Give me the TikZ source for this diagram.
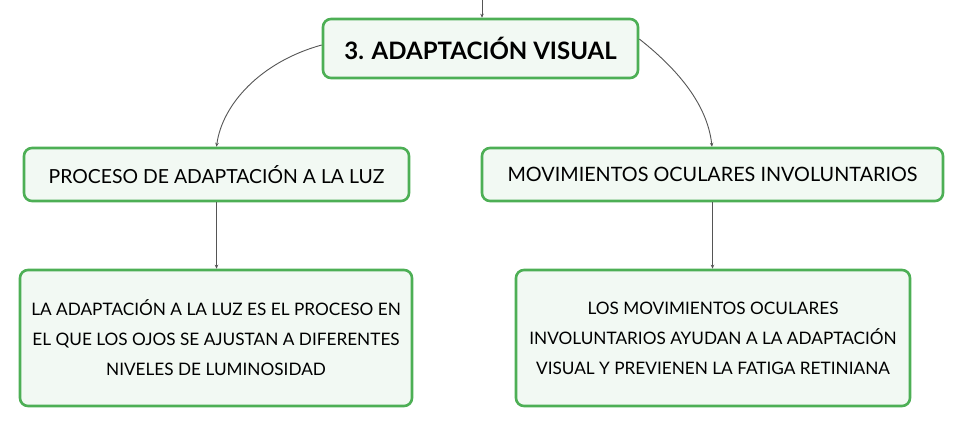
\documentclass[tikz,border=0pt]{standalone}
\usepackage{fontspec}
\setmainfont{Lato}
\usetikzlibrary{arrows.meta}
\definecolor{boxgreen}{HTML}{4DAF55}
\definecolor{boxfill}{HTML}{F2F9F3}
\definecolor{linegray}{HTML}{555555}
\tikzset{
  box/.style={draw=boxgreen, line width=2.6pt, fill=boxfill, rounded corners=8pt, align=center, inner sep=0pt},
  conn/.style={draw=linegray, line width=0.9pt, -{Stealth[length=4pt,width=3.5pt]}}
}
\begin{document}
\begin{tikzpicture}[x=1pt,y=-1pt]
\useasboundingbox (0,0) rectangle (964,426);
\node[box, minimum width=315pt, minimum height=59pt, font=\fontsize{24}{28}\selectfont\bfseries] (root) at (480.5,48.5) {3. ADAPTACIÓN VISUAL};
\node[box, minimum width=385pt, minimum height=53pt, font=\fontsize{19.4}{23}\selectfont] (pl) at (216.5,174.5) {PROCESO DE ADAPTACIÓN A LA LUZ};
\node[box, minimum width=461pt, minimum height=53pt, font=\fontsize{19.8}{23}\selectfont] (pr) at (712.5,174.5) {MOVIMIENTOS OCULARES INVOLUNTARIOS};
\node[box, minimum width=392pt, minimum height=136pt, font=\fontsize{17.2}{30}\selectfont] (bl) at (216,338) {LA ADAPTACIÓN A LA LUZ ES EL PROCESO EN\\EL QUE LOS OJOS SE AJUSTAN A DIFERENTES\\NIVELES DE LUMINOSIDAD};
\node[box, minimum width=394pt, minimum height=136pt, font=\fontsize{17.2}{30}\selectfont] (br) at (713,338) {LOS MOVIMIENTOS OCULARES\\INVOLUNTARIOS AYUDAN A LA ADAPTACIÓN\\VISUAL Y PREVIENEN LA FATIGA RETINIANA};
\coordinate (in) at (482,0);
\draw[conn] (in) -- (root.north -| in);
\draw[conn] ([yshift=3.5pt]root.west) .. controls (260,62) and (222,105) .. (pl.north);
\draw[conn] ([yshift=9.5pt]root.east) .. controls (685,75) and (708,110) .. (pr.north -| 712,0);
\draw[conn] (pl.south) -- (bl.north -| pl.south);
\draw[conn] (pr.south) -- (br.north -| pr.south);
\end{tikzpicture}
\end{document}
